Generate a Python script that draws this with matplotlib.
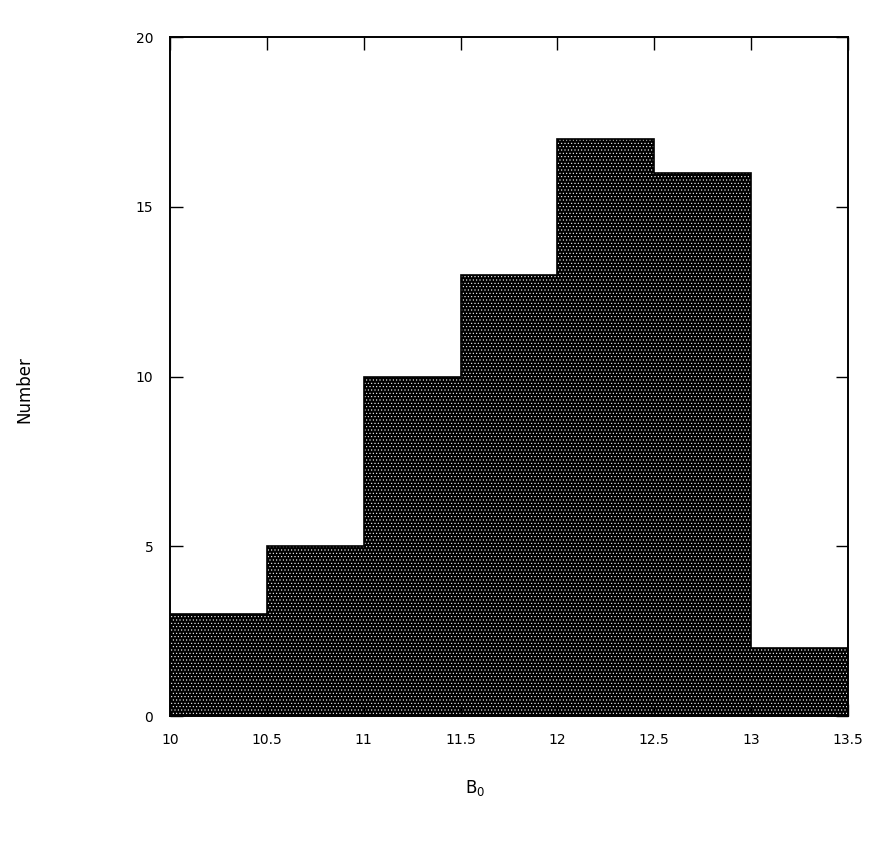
import numpy as np
import matplotlib.pyplot as plt

# bin edges and counts
edges = [10.0, 10.5, 11.0, 11.5, 12.0, 12.5, 13.0, 13.5]
counts = [3, 5, 10, 13, 17, 16, 2]
xticks = [10, 10.5, 11, 11.5, 12, 12.5, 13, 13.5]
xticklabels = ['10', '10.5', '11', '11.5', '12', '12.5', '13', '13.5']
yticks = [0, 5, 10, 15, 20]

plt.rcParams['hatch.linewidth'] = 0.4
fig = plt.figure(figsize=(8.72, 8.57), dpi=100)
ax = fig.add_axes([0.195, 0.1645, 0.7775, 0.7923])

widths = np.diff(edges)
ax.bar(edges[:-1], counts, width=widths, align='edge', color='black',
       edgecolor='white', linewidth=0, hatch='.....')
ax.stairs(counts, edges, color='black', linewidth=1.2)

ax.set_xlim(10, 13.5)
ax.set_ylim(0, 20)
ax.set_xticks(xticks)
ax.set_xticklabels(xticklabels)
ax.set_yticks(yticks)
ax.tick_params(direction='in', length=9, width=1, top=True, right=True, labelsize=10, pad=12)
for s in ax.spines.values():
    s.set_linewidth(1.4)

fig.text(0.545, 0.075, r'$\mathregular{B_0}$', fontsize=12, ha='center')
fig.text(0.028, 0.545, 'Number', rotation=90, fontsize=12, va='center', ha='center')

fig.savefig('out.png', dpi=100)
